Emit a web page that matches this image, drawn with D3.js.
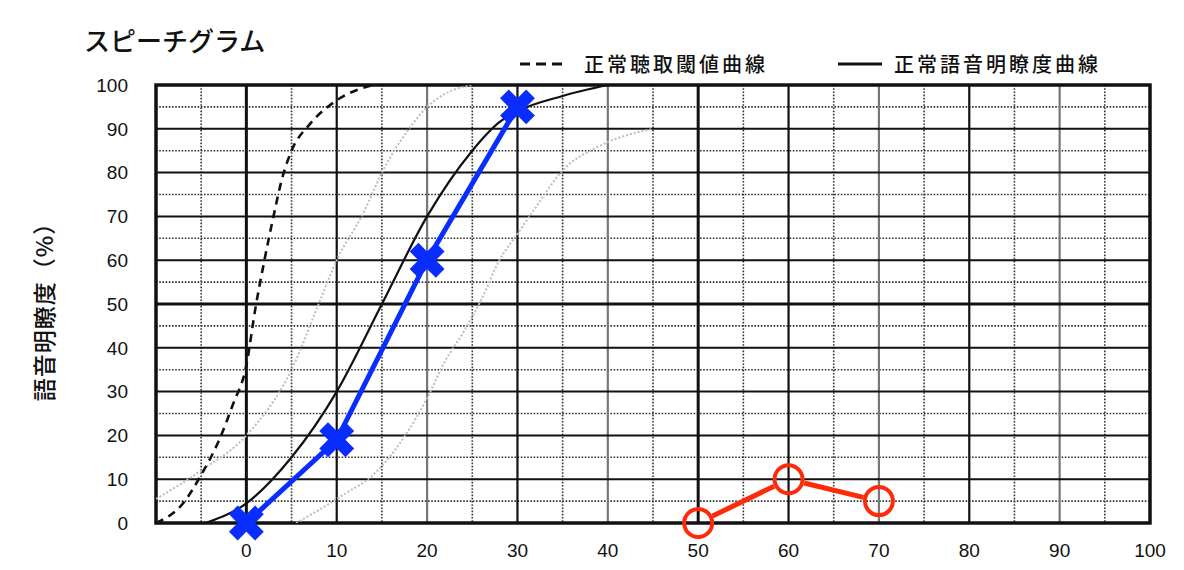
<!DOCTYPE html>
<html>
	<head>
		<meta charset="utf-8">
		<title>スピーチグラム</title>
		<script src="https://d3js.org/d3.v7.min.js"></script>
		<style>
			body { margin: 0; background: #fff; }
			svg { display: block; }
			text { font-family: "Noto Sans CJK JP", sans-serif; fill: #111; font-weight: 500; }
			.num { font-family: "Liberation Sans", Arial, sans-serif; font-size: 19px; font-weight: normal; }
		</style>
	</head>
	<body>
		<svg width="1184" height="570"></svg>
		<script>
			// tick labels
			var xTicks = [0, 10, 20, 30, 40, 50, 60, 70, 80, 90, 100];
			var yTicks = [0, 10, 20, 30, 40, 50, 60, 70, 80, 90, 100];

			// reference curves [dB, %]
			var thresholdCurve = [[-10, 0], [-7, 4.5], [-5, 11], [-3, 19], [-1.5, 27], [0, 36], [1, 49], [2, 60], [3, 70], [4, 79], [5, 85], [7, 91], [10, 96.5], [14, 100]];
			var speechCurve = [[-4.5, 0], [0, 4.5], [5, 15], [10, 30], [15, 50], [20, 70], [25, 85], [28, 91.5], [30, 94], [35, 97.5], [40, 100]];
			var rangeLow = [[-10, 5.5], [-5, 12], [0, 20], [5, 35], [8, 50], [10, 60], [13, 71], [15, 80], [18, 90], [20, 95], [22, 98], [25, 100]];
			var rangeHigh = [[5.5, 0], [10, 5.5], [15, 13], [20, 28.5], [22, 37], [24, 43.5], [26, 51], [28, 60], [30, 66], [32, 72], [35, 80.5], [39, 86], [45, 90]];

			// measured results
			var rightX = [0, 10, 20, 30];
			var rightY = [0, 19, 60, 95];
			var leftX = [50, 60, 70];
			var leftY = [0, 10, 5];

			var legendLabels = ['正常聴取閾値曲線', '正常語音明瞭度曲線'];

			var svg = d3.select('svg'),
				pL = 156, pR = 1150, pT = 85, pB = 523;

			var x = d3.scaleLinear().domain([-10, 100]).range([pL, pR]);
			var y = d3.scaleLinear().domain([0, 100]).range([pB, pT]);

			// title
			svg.append('text')
				.attr('x', 84)
				.attr('y', 51)
				.style('font-size', '26px')
				.text('スピーチグラム');

			// legend
			var legend = svg.append('g');
			legend.append('line')
				.attr('x1', 520).attr('x2', 566).attr('y1', 64).attr('y2', 64)
				.attr('stroke', '#111').attr('stroke-width', 3)
				.attr('stroke-dasharray', '10,6');
			legend.append('line')
				.attr('x1', 838).attr('x2', 882).attr('y1', 64).attr('y2', 64)
				.attr('stroke', '#111').attr('stroke-width', 3);
			legend.selectAll('text.leg')
				.data(legendLabels)
				.enter()
				.append('text')
				.attr('class', 'leg')
				.attr('x', function(d, i) { return i === 0 ? 584 : 894; })
				.attr('y', 72)
				.style('font-size', '20px')
				.style('letter-spacing', '3px')
				.text(function(d) { return d; });

			// grid: minor (5) dotted, major (10) solid
			var grid = svg.append('g');
			var minorX = d3.range(-5, 100, 10);
			var majorX = d3.range(0, 100, 10);
			var minorY = d3.range(5, 100, 10);
			var majorY = d3.range(10, 100, 10);
			var soft = [20, 40, 70, 90];

			grid.selectAll('line.mx')
				.data(minorX)
				.enter()
				.append('line')
				.attr('x1', x).attr('x2', x)
				.attr('y1', pT).attr('y2', pB)
				.attr('stroke', '#333').attr('stroke-width', 1.6)
				.attr('stroke-dasharray', '1.6,1.6');
			grid.selectAll('line.my')
				.data(minorY)
				.enter()
				.append('line')
				.attr('y1', y).attr('y2', y)
				.attr('x1', pL).attr('x2', pR)
				.attr('stroke', '#333').attr('stroke-width', 1.6)
				.attr('stroke-dasharray', '1.6,1.6');
			grid.selectAll('line.Mx')
				.data(majorX)
				.enter()
				.append('line')
				.attr('x1', x).attr('x2', x)
				.attr('y1', pT).attr('y2', pB)
				.attr('stroke', function(d) { return soft.indexOf(d) >= 0 ? '#777' : '#111'; })
				.attr('stroke-width', function(d) { return d === 0 || d === 50 ? 3 : 2.2; });
			grid.selectAll('line.My')
				.data(majorY)
				.enter()
				.append('line')
				.attr('y1', y).attr('y2', y)
				.attr('x1', pL).attr('x2', pR)
				.attr('stroke', '#111')
				.attr('stroke-width', function(d) { return d === 50 ? 3 : 2; });

			// frame
			svg.append('rect')
				.attr('x', pL).attr('y', pT)
				.attr('width', pR - pL).attr('height', pB - pT)
				.attr('fill', 'none').attr('stroke', '#111').attr('stroke-width', 3.5);

			// axis labels
			svg.append('g')
				.selectAll('text')
				.data(yTicks)
				.enter()
				.append('text')
				.attr('class', 'num')
				.attr('x', 128)
				.attr('y', function(d) { return y(d); })
				.attr('dy', '0.36em')
				.attr('text-anchor', 'end')
				.text(function(d) { return d; });
			svg.append('g')
				.selectAll('text')
				.data(xTicks)
				.enter()
				.append('text')
				.attr('class', 'num')
				.attr('x', function(d) { return x(d); })
				.attr('y', 557)
				.attr('text-anchor', 'middle')
				.text(function(d) { return d; });

			svg.append('text')
				.attr('transform', 'translate(53,306) rotate(-90)')
				.attr('text-anchor', 'middle')
				.style('font-size', '23px')
				.style('letter-spacing', '1px')
				.text('語音明瞭度（%）');

			// curves
			svg.append('clipPath').attr('id', 'plot')
				.append('rect')
				.attr('x', pL).attr('y', pT)
				.attr('width', pR - pL).attr('height', pB - pT);

			var curve = d3.line()
				.x(function(d) { return x(d[0]); })
				.y(function(d) { return y(d[1]); })
				.curve(d3.curveMonotoneX);

			var curves = svg.append('g').attr('clip-path', 'url(#plot)');
			[rangeLow, rangeHigh].forEach(function(c) {
				curves.append('path')
					.attr('d', curve(c))
					.attr('fill', 'none')
					.attr('stroke', '#bdbdbd')
					.attr('stroke-width', 2)
					.attr('stroke-dasharray', '2,2');
			});
			curves.append('path')
				.attr('d', curve(thresholdCurve))
				.attr('fill', 'none')
				.attr('stroke', '#111')
				.attr('stroke-width', 2.6)
				.attr('stroke-dasharray', '8,6');
			curves.append('path')
				.attr('d', curve(speechCurve))
				.attr('fill', 'none')
				.attr('stroke', '#111')
				.attr('stroke-width', 2.2);

			// right ear (blue, x marks)
			var blue = '#0a2dff', red = '#ff2a0a';
			var rightPts = rightX.map(function(v, i) { return [v, rightY[i]]; });
			var straight = d3.line()
				.x(function(d) { return x(d[0]); })
				.y(function(d) { return y(d[1]); });

			svg.append('path')
				.attr('d', straight(rightPts))
				.attr('fill', 'none')
				.attr('stroke', blue)
				.attr('stroke-width', 5);
			svg.selectAll('path.xmark')
				.data(rightPts)
				.enter()
				.append('path')
				.attr('class', 'xmark')
				.attr('d', d3.symbol().type(d3.symbolCross).size(760))
				.attr('transform', function(d) { return 'translate(' + x(d[0]) + ',' + y(d[1]) + ') rotate(45)'; })
				.attr('fill', blue);

			// left ear (red, open circles), segments stop at the circle edge
			var r = 16;
			var leftPts = leftX.map(function(v, i) { return [x(v), y(leftY[i])]; });
			var segs = d3.pairs(leftPts);
			svg.selectAll('line.seg')
				.data(segs)
				.enter()
				.append('line')
				.attr('class', 'seg')
				.each(function(s) {
					var dx = s[1][0] - s[0][0], dy = s[1][1] - s[0][1],
						len = Math.sqrt(dx * dx + dy * dy),
						ux = dx / len, uy = dy / len;
					d3.select(this)
						.attr('x1', s[0][0] + ux * r).attr('y1', s[0][1] + uy * r)
						.attr('x2', s[1][0] - ux * r).attr('y2', s[1][1] - uy * r);
				})
				.attr('stroke', red)
				.attr('stroke-width', 5);
			svg.selectAll('circle.o')
				.data(leftPts)
				.enter()
				.append('circle')
				.attr('class', 'o')
				.attr('cx', function(d) { return d[0]; })
				.attr('cy', function(d) { return d[1]; })
				.attr('r', r - 2)
				.attr('fill', 'none')
				.attr('stroke', red)
				.attr('stroke-width', 4);
		</script>
	</body>
</html>
